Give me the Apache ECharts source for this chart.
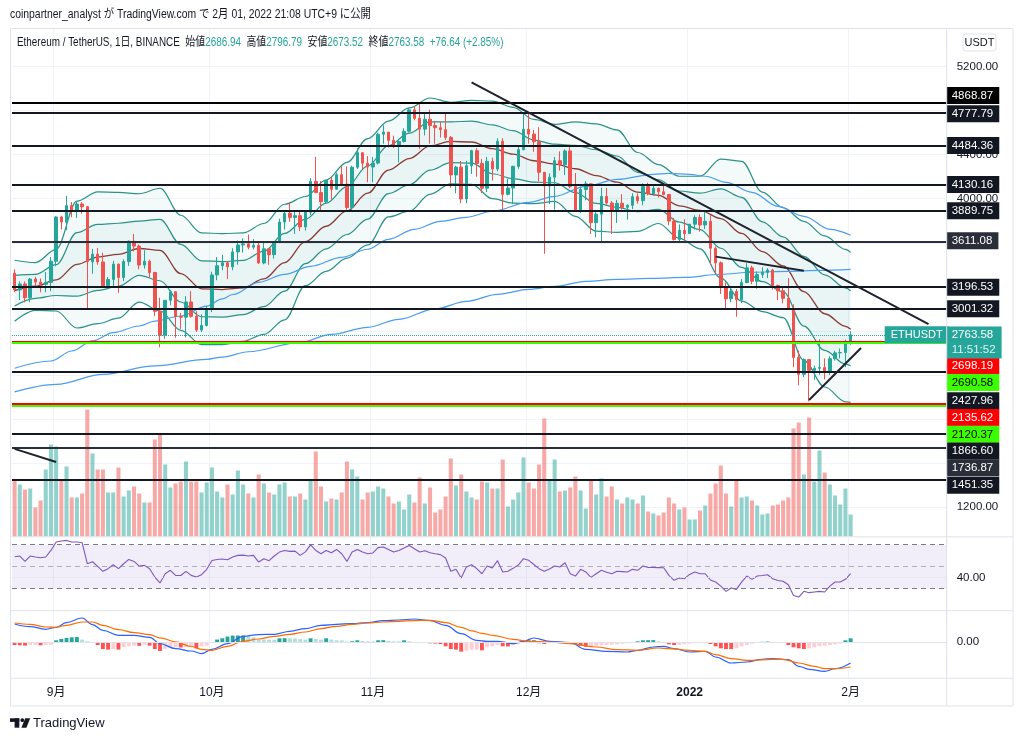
<!DOCTYPE html>
<html>
<head>
<meta charset="utf-8">
<title>ETHUSDT 1D</title>
<script src="https://cdn.jsdelivr.net/npm/echarts/dist/echarts.min.js"></script>
<style>
html,body{margin:0;padding:0;background:#ffffff;}
#chart{width:1024px;height:741px;}
</style>
</head>
<body>
<div id="chart"></div>
<script>
// ================= DATA =================
const slotCount = 180;               // daily slots on the time axis (2021-08-24 ... 2022-02-19)
const monthTicks = {'2021-09-01':'9月','2021-10-01':'10月','2021-11-01':'11月','2021-12-01':'12月','2022-01-01':'2022','2022-02-01':'2月'};

// daily candles [open, high, low, close], 2021-08-24 .. 2022-02-01
const ohlc = [
 [3324,3358,3151,3172],[3172,3249,3080,3226],[3226,3249,3058,3100],[3100,3280,3060,3270],[3270,3290,3200,3243],
 [3243,3276,3150,3223],[3223,3335,3150,3240],[3240,3470,3160,3433],[3433,3840,3387,3834],[3834,3845,3720,3788],
 [3788,4027,3714,3937],[3937,3970,3832,3887],[3887,3975,3826,3952],[3952,3969,3865,3927],[3927,3935,3000,3427],
 [3427,3545,3318,3496],[3496,3552,3400,3426],[3426,3510,3200,3211],[3211,3290,3178,3266],[3266,3436,3205,3406],
 [3406,3410,3145,3285],[3285,3450,3251,3429],[3429,3622,3390,3613],[3613,3680,3520,3570],[3570,3584,3358,3397],
 [3397,3532,3365,3432],[3432,3447,3285,3330],[3330,3336,2933,2977],[2977,3100,2650,2760],[2760,3080,2727,3077],
 [3077,3172,3032,3155],[3155,3160,2737,2930],[2930,2963,2817,2924],[2924,3115,2740,3062],[3062,3160,2919,2932],
 [2932,2978,2790,2807],[2807,2950,2790,2849],[2849,3025,2840,3000],[3000,3336,2970,3308],[3308,3470,3260,3391],
 [3391,3490,3350,3418],[3418,3430,3270,3381],[3381,3550,3350,3517],[3517,3620,3400,3580],[3580,3640,3510,3590],
 [3590,3675,3540,3560],[3560,3633,3540,3577],[3577,3615,3410,3416],[3416,3600,3405,3545],[3545,3550,3400,3492],
 [3492,3615,3456,3606],[3606,3818,3600,3788],[3788,3880,3720,3867],[3867,3968,3790,3830],[3830,3888,3680,3846],
 [3846,3895,3706,3744],[3744,3890,3710,3878],[3878,4187,3850,4157],[4157,4380,4050,4056],[4056,4160,3890,3972],
 [3972,4168,3960,4168],[4168,4198,3990,4086],[4086,4238,4080,4218],[4218,4295,4120,4132],[4132,4294,3900,3920],
 [3920,4300,3880,4286],[4286,4460,4270,4418],[4418,4418,4270,4323],[4323,4387,4150,4288],[4288,4380,4150,4324],
 [4324,4600,4310,4586],[4586,4666,4500,4605],[4605,4607,4465,4530],[4530,4572,4460,4475],[4475,4530,4330,4520],
 [4520,4640,4510,4612],[4612,4824,4600,4807],[4807,4840,4713,4730],[4730,4868,4450,4632],[4632,4778,4575,4722],
 [4722,4810,4500,4665],[4665,4707,4500,4645],[4645,4700,4556,4627],[4627,4773,4535,4557],[4557,4570,4100,4216],
 [4216,4300,4050,4287],[4287,4343,3960,3998],[3998,4345,3960,4300],[4300,4445,4225,4436],[4436,4460,4200,4320],
 [4320,4360,4050,4095],[4095,4380,4060,4340],[4340,4373,4165,4270],[4270,4550,4250,4523],[4523,4550,3900,4040],
 [4040,4180,4030,4097],[4097,4300,3950,4294],[4294,4470,4272,4445],[4445,4778,4440,4631],[4631,4778,4500,4587],
 [4587,4625,4426,4518],[4518,4650,4156,4240],[4240,4240,3500,4116],[4116,4230,3950,4196],[4196,4380,3900,4346],
 [4346,4430,4255,4308],[4308,4450,4215,4434],[4434,4490,4095,4110],[4110,4233,3890,3900],[3900,4110,3870,4084],
 [4084,4160,3986,4135],[4135,4140,3680,3783],[3783,3880,3650,3860],[3860,4100,3600,4021],[4021,4098,3945,3961],
 [3961,3980,3680,3886],[3886,3990,3780,3959],[3959,4041,3900,3922],[3922,3950,3810,3940],[3940,4050,3905,4019],
 [4019,4048,3955,3982],[3982,4140,3940,4110],[4110,4145,4030,4045],[4045,4120,4030,4095],[4095,4100,4010,4063],
 [4063,4125,4033,4038],[4038,4040,3760,3797],[3797,3827,3620,3630],[3630,3767,3600,3713],[3713,3815,3625,3683],
 [3683,3770,3680,3769],[3769,3850,3720,3829],[3829,3857,3700,3762],[3762,3877,3725,3795],[3795,3850,3400,3550],
 [3550,3567,3320,3418],[3418,3431,3135,3193],[3193,3240,3000,3091],[3091,3204,3060,3157],[3157,3180,2928,3083],
 [3083,3270,3052,3239],[3239,3414,3232,3372],[3372,3392,3224,3251],[3251,3340,3183,3311],[3311,3378,3280,3331],
 [3331,3370,3280,3353],[3353,3363,3174,3212],[3212,3220,3080,3164],[3164,3198,3050,3095],[3095,3280,2990,3001],
 [3001,3042,2469,2559],[2559,2620,2305,2405],[2405,2550,2380,2539],[2539,2540,2159,2441],[2441,2485,2355,2460],
 [2460,2723,2400,2466],[2466,2549,2360,2424],[2424,2570,2400,2547],[2547,2620,2530,2600],[2600,2640,2550,2603],
 [2603,2720,2470,2686.94],[2686.94,2796.79,2673.52,2763.58]
];

// daily volume (thousand ETH)
const volume = [
 692,624,564,576,348,432,804,1104,1080,680, 840,468,468,516,1524,996,804,804,528,528,
 828,480,552,600,516,408,408,1164,1236,864, 588,636,660,900,660,660,528,648,828,540,
 468,624,504,792,624,516,468,744,636,528, 504,624,648,480,480,516,444,684,1020,600,
 420,456,444,528,900,804,720,444,528,540, 600,576,480,396,420,324,504,408,708,396,
 588,288,324,480,936,612,744,540,468,444, 660,648,576,576,924,360,444,528,948,648,
 576,864,1416,684,924,540,552,588,720,552, 336,684,504,696,480,600,444,396,468,444,
 396,492,300,276,252,288,468,396,324,348, 204,204,312,372,516,636,852,516,360,684,
 468,480,432,372,264,276,372,384,432,468, 1296,1368,744,1428,660,1032,768,624,492,384,
 576,264
];

// Bollinger bands (20, 2σ and 1σ) read at sample days (days since 2021-08-24)
const bandDay = [0,4,8,12,16,20,24,28,32,36,40,44,48,52,56,60,64,68,72,76,80,84,88,92,96,100,104,108,112,116,120,124,128,132,136,140,144,148,152,156,160,161];
const bbUpper2 = [3441,3420,3540,3979,4063,4058,4045,4095,3850,3690,3683,3690,3775,3950,4020,4170,4330,4545,4705,4825,4915,4876,4894,4886,4830,4720,4675,4698,4680,4625,4420,4310,4204,4204,4360,4340,4060,3918,3795,3662,3540,3513];
const bbUpper1 = [3303,3313,3401,3692,3767,3777,3797,3813,3585,3436,3429,3440,3524,3685,3815,3960,4110,4298,4483,4595,4698,4698,4705,4671,4618,4533,4495,4485,4445,4388,4240,4171,4070,4050,4090,4013,3790,3654,3476,3309,3191,3164];
const bbBasis  = [3165,3205,3262,3404,3470,3495,3548,3530,3320,3182,3175,3190,3272,3420,3610,3750,3890,4050,4260,4365,4480,4520,4515,4455,4405,4345,4315,4272,4210,4150,4060,4031,3935,3895,3820,3685,3520,3390,3156,2955,2841,2815];
const bbLower1 = [3026,3095,3121,3115,3167,3205,3304,3255,3062,2928,2925,2947,3020,3160,3410,3545,3675,3815,4047,4125,4260,4327,4323,4227,4182,4150,4145,4056,3957,3922,3882,3903,3787,3720,3550,3377,3247,3155,2843,2622,2498,2483];
const bbLower2 = [2887,2986,2980,2826,2865,2915,3060,2980,2805,2675,2675,2705,2768,2900,3210,3340,3460,3580,3835,3886,4040,4135,4131,4000,3960,3955,3975,3840,3705,3695,3704,3775,3640,3545,3280,3070,2975,2920,2530,2290,2155,2151];

// two moving averages (blue)
const maFastDay = [0,7,11,15,19,24,27,32,37,40,42,47,52,57,63,68,72,77,82,87,92,99,104,110,116,123,126,130,133,137,142,147,152,157,161];
const maFast    = [2460,2526,2617,2708,2784,2844,2889,2935,3025,3090,3130,3241,3313,3386,3468,3541,3631,3722,3795,3831,3886,3967,4022,4113,4176,4222,4231,4222,4204,4149,4058,3931,3840,3722,3668];
const maSlowDay = [0,8,17,27,37,40,45,55,61,68,74,81,87,93,99,104,110,116,123,129,136,142,149,155,161];
const maSlow    = [2246,2314,2405,2481,2541,2562,2610,2696,2768,2832,2905,3000,3068,3132,3177,3204,3250,3268,3277,3286,3314,3332,3341,3350,3359];

// horizontal levels and drawn trend lines
const levelPrices = [4868.87,4777.79,4484.36,4130.16,3889.75,3611.08,3196.53,3001.32,2698.19,2690.58,2427.96,2135.62,2120.37,1866.60,1736.87,1451.35];
const trendLines = [
  [['2021-11-20',5057],['2022-02-16',2860]],
  [['2022-01-06',3474],['2022-01-23',3345]],
  [['2022-01-24',2172],['2022-02-03',2644]],
  [['2021-08-24',1728],['2021-09-01',1609]]
];
const barCountdown = '11:51:52';

// RSI (14), one value per day
const rsi = [
 59.1,59.7,54.8,59.7,58.8,58.2,58.8,64.8,72.4,73.3, 73.9,72.4,72.4,71.8,52.7,54.5,50.3,45.8,48.2,51.8,
 48.2,52.7,56.6,54.8,50.6,51.2,48.2,40.6,35.2,43.6, 46.7,42.1,42.0,45.8,42.1,40.6,42.7,47.6,55.7,56.6,
 57.0,56.3,58.8,60.3,60.5,59.7,60.3,54.2,57.3,55.5, 59.7,63.3,64.8,63.9,64.2,60.3,63.5,69.9,64.8,61.8,
 64.8,62.7,65.7,61.8,54.8,63.3,65.7,63.3,61.8,62.5, 67.3,67.9,65.7,63.3,64.8,66.9,69.3,66.3,63.3,64.5,
 62.7,61.8,61.0,57.9,45.8,47.6,39.7,49.7,51.8,48.2, 43.6,50.6,48.8,55.5,45.2,45.8,48.5,51.5,57.3,55.8,
 52.0,48.2,45.8,48.0,50.6,49.7,53.6,43.6,41.5,47.6, 45.2,40.3,43.6,46.7,45.0,43.6,45.8,45.5,45.2,47.6,
 46.7,50.6,49.4,49.3,49.2,49.1,42.1,37.6,39.7,39.1, 43.0,45.2,43.6,43.6,38.0,36.1,32.4,27.6,30.6,29.4,
 36.0,41.5,38.5,41.5,42.0,42.7,39.1,37.5,36.7,33.6, 23.9,22.4,27.6,26.4,27.0,27.6,27.0,32.4,36.1,36.1,
 38.5,43.6
];

// MACD (12, 26, 9)
const macdDay = [0,3,6,8,10,13,15,17,20,23,26,28,31,34,36,38,41,44,47,50,53,56,59,62,65,68,71,74,77,80,83,86,89,91,93,96,98,100,103,107,110,114,118,120,123,125,127,130,133,135,138,141,144,146,149,151,153,156,158,161];
const macdLine = [183,157,130,150,197,243,177,120,70,70,50,-13,-63,-87,-113,-70,-13,60,77,80,110,137,170,180,187,197,217,223,233,217,170,87,20,10,10,-13,10,43,10,-3,-70,-90,-97,-80,-47,-40,-63,-97,-90,-147,-207,-197,-170,-163,-173,-240,-270,-290,-263,-207];
const signalDay = [0,3,6,8,10,13,15,17,20,23,26,28,31,34,36,38,41,44,47,50,53,56,59,62,65,68,71,74,77,80,83,86,88,90,92,96,99,103,107,112,116,120,124,126,130,133,135,138,141,146,148,151,154,156,158,161];
const signalLine = [193,180,153,150,170,203,203,170,127,97,77,45,5,-42,-70,-80,-40,10,33,60,80,103,137,160,180,193,203,210,217,220,197,150,115,90,70,30,10,3,-13,-47,-73,-80,-57,-63,-80,-90,-123,-163,-180,-170,-170,-207,-240,-263,-263,-247];
const macdHist = [
 -27,-30,-33,-27,-25,-30,-27,-25,20,33, 43,50,52,27,10,-7,-27,-67,-73,-67,
 -73,-47,-40,-33,-35,-27,-33,-67,-87,-65, -58,-50,-52,-50,-43,-60,-40,-33,3,27,
 40,57,67,67.5,68,60,50,27,27,26, 25,40,41,40,38,33,27,40,33,27,
 40,27,20,19,7,10,20,13,10,9, 20,21,13,10,9,20,10,3,3,1,
 -10,-13,-17,-40,-67,-73,-93,-83,-73,-72, -80,-50,-40,-27,-40,-42,-27,-20,10,20,
 21,-10,-17,-10,-8,-6,-4,-17,-20,-35, -45,-40,-35,-30,-27,-23,-20,-13,-10,-7,
 10,20,21,22,10,-3,-20,-27,-26,-20, -13,-10,-7,-5,-17,-40,-60,-67,-68,-60,
 -40,-27,-13,-7,5,7,3,2,-7,-27, -50,-60,-67,-60,-50,-40,-33,-27,-20,-13,
 20,40
];

// ================= BUILD =================
const dates = [];
(function(){ const t0 = Date.UTC(2021,7,24); for (let i=0;i<slotCount;i++) dates.push(new Date(t0+i*86400000).toISOString().slice(0,10)); })();

const FONT = "'Liberation Sans', 'Noto Sans CJK JP', sans-serif";
const TEXT = '#131722', GRIDLINE = '#f0f3fa', BORDER = '#e0e3eb';
const UP = '#26a69a', DOWN = '#ef5350';

const pairs = (days, vals) => days.map((d,i) => [dates[d], vals[i]]);
const diff = (a,b) => a.map((v,i) => v - b[i]);
const isUp = ohlc.map(r => r[3] >= r[0]);
const candleData = ohlc.map(r => [r[0], r[3], r[2], r[1]]);

const levelKinds = ['k0','k','k','k','k','g','k','k','r','G','k','r','G','k','g','k'];
const levelLabelShift = [-7.5,0.7,0,0,0,-0.7,0,0,23.7,39.5,29,13.4,28.7,17.5,19.9,5.8];
const kindStyle = {
  k0:{line:'#000000', bg:'#000000', fg:'#ffffff'},
  k:{line:'#131722', bg:'#131722', fg:'#ffffff'},
  g:{line:'#2a2e39', bg:'#2a2e39', fg:'#ffffff'},
  r:{line:'#ff0000', bg:'#ff0000', fg:'#ffffff'},
  G:{line:'#3bff00', bg:'#3bff00', fg:'#000000'}
};
const levelItems = levelPrices.map((p,i) => {
  const s = kindStyle[levelKinds[i]];
  return {yAxis:p, lineStyle:{color:s.line, width:2, type:'solid'},
    label:{show:true, position:'end', distance:0, formatter:p.toFixed(2), backgroundColor:s.bg, color:s.fg,
      padding:[2,6,2,5], fontSize:11.5, fontFamily:FONT, lineHeight:13, offset:[0, levelLabelShift[i]]}};
});
const last = ohlc[ohlc.length-1];
const prevClose = ohlc[ohlc.length-2][3];
const lastItems = [
  {yAxis:last[3], lineStyle:{color:'rgba(0,0,0,0)', width:0},
   label:{show:true, position:'end', distance:0, formatter:'ETHUSDT', backgroundColor:UP, color:'#ffffff',
     padding:[2,6,2,6], offset:[-62,0], fontSize:11, fontFamily:FONT, lineHeight:13}},
  {yAxis:last[3], lineStyle:{color:UP, width:1, type:'dotted'},
   label:{show:true, position:'end', distance:0, formatter:'{a|'+last[3].toFixed(2)+'}\n{b|'+barCountdown+'}',
     backgroundColor:UP, padding:[1,6,1,5], offset:[0,7.7],
     rich:{a:{color:'#ffffff', fontSize:11.5, fontFamily:FONT, lineHeight:15}, b:{color:'rgba(255,255,255,0.85)', fontSize:11.5, fontFamily:FONT, lineHeight:15}}}}
];
const trendItems = trendLines.map(([a,b]) => [
  {coord:[a[0],a[1]], lineStyle:{color:'#1e222d', width:2, type:'solid'}, label:{show:false}},
  {coord:[b[0],b[1]]}
]);

const gridL = 12, gridR = 1024 - 946.7;
const grids = [
  {left:gridL, right:gridR, top:66.6, height:440.4},
  {left:gridL, right:gridR, top:28, height:508.5},
  {left:gridL, right:gridR, top:537, height:73.7},
  {left:gridL, right:gridR, top:610.7, height:67.6}
].map(g => Object.assign(g, {containLabel:false, outerBoundsMode:'none', show:false}));

const isTick = (i, v) => monthTicks[v] !== undefined;
const xAxes = [0,1,2,3].map(i => ({
  type:'category', gridIndex:i, data:dates, boundaryGap:true,
  axisLine:{show:false}, axisTick:{show:false},
  axisLabel: i === 3 ? {show:true, interval:isTick, margin:8, color:TEXT, fontSize:12, fontFamily:FONT,
      formatter: v => v === '2022-01-01' ? '{b|2022}' : (monthTicks[v] || ''),
      rich:{b:{fontWeight:'bold', color:TEXT, fontSize:12, fontFamily:FONT}}} : {show:false},
  splitLine:{show: i !== 0, interval:isTick, lineStyle:{color:GRIDLINE, width:1}}
}));

const priceLabelSet = [5200, 4400, 4000, 1200];
const axisLbl = {color:TEXT, fontSize:11.5, fontFamily:FONT, margin:10};
const yAxes = [
  {type:'value', gridIndex:0, position:'right', min:1200, max:5200, interval:400,
   axisLine:{show:false}, axisTick:{show:false},
   axisLabel:Object.assign({formatter: v => priceLabelSet.includes(v) ? v.toFixed(2) : ''}, axisLbl),
   splitLine:{show:true, lineStyle:{color:GRIDLINE, width:1}}},
  {type:'value', gridIndex:1, min:0, max:6102, show:false, splitLine:{show:false}},
  {type:'value', gridIndex:2, position:'right', min:10, max:77, interval:10,
   axisLine:{show:false}, axisTick:{show:false}, splitLine:{show:false},
   axisLabel:Object.assign({formatter: v => v === 40 ? '40.00' : ''}, axisLbl)},
  {type:'value', gridIndex:3, position:'right', min:-360, max:316, interval:360,
   axisLine:{show:false}, axisTick:{show:false}, splitLine:{show:false},
   axisLabel:Object.assign({formatter: v => v === 0 ? '0.00' : ''}, axisLbl)}
];

const bandLine = (name, days, vals, color, width) => ({
  name, type:'line', xAxisIndex:0, yAxisIndex:0, data:pairs(days, vals), symbol:'none',
  smooth:0.35, smoothMonotone:'x', silent:true, lineStyle:{color, width}, z:2
});
const fillBase = (stack, vals) => ({type:'line', xAxisIndex:0, yAxisIndex:0, stack, data:pairs(bandDay, vals),
  symbol:'none', smooth:0.35, smoothMonotone:'x', silent:true, lineStyle:{opacity:0}, z:1});
const fillTop = (stack, vals, color) => ({type:'line', xAxisIndex:0, yAxisIndex:0, stack, data:pairs(bandDay, vals),
  symbol:'none', smooth:0.35, smoothMonotone:'x', silent:true, lineStyle:{opacity:0}, areaStyle:{color, opacity:1}, z:1});

let prevH = 0;
const histData = macdHist.map(v => {
  let c;
  if (v >= 0) c = v > prevH ? '#26a69a' : '#b2dfdb';
  else c = v < prevH ? '#ff5252' : '#ffcdd2';
  prevH = v;
  return {value:v, itemStyle:{color:c}};
});

const series = [
  {name:'Volume', type:'bar', xAxisIndex:1, yAxisIndex:1, barWidth:'78%', silent:true, z:0,
   data: volume.map((v,i) => ({value:v, itemStyle:{color: isUp[i] ? 'rgba(38,166,154,0.5)' : 'rgba(239,83,80,0.5)'}}))},
  fillBase('bbOuter', bbLower2),
  fillTop('bbOuter', diff(bbUpper2, bbLower2), 'rgba(38,166,154,0.055)'),
  fillBase('bbInner', bbLower1),
  fillTop('bbInner', diff(bbUpper1, bbLower1), 'rgba(38,166,154,0.05)'),
  bandLine('BB upper 2', bandDay, bbUpper2, '#2a9287', 1.2),
  bandLine('BB upper 1', bandDay, bbUpper1, '#2a9287', 1.2),
  bandLine('BB lower 1', bandDay, bbLower1, '#2a9287', 1.2),
  bandLine('BB lower 2', bandDay, bbLower2, '#2a9287', 1.2),
  bandLine('BB basis', bandDay, bbBasis, '#8c3a36', 1.3),
  bandLine('MA fast', maFastDay, maFast, '#4a9df0', 1.2),
  bandLine('MA slow', maSlowDay, maSlow, '#4a9df0', 1.2),
  {name:'ETHUSDT', type:'candlestick', xAxisIndex:0, yAxisIndex:0, data:candleData, barWidth:3, z:3, silent:true,
   itemStyle:{color:UP, color0:DOWN, borderColor:UP, borderColor0:DOWN, borderWidth:1},
   markLine:{symbol:['none','none'], silent:true, animation:false,
     data:[...levelItems, ...lastItems, ...trendItems]}},
  {name:'RSI', type:'line', xAxisIndex:2, yAxisIndex:2, data:rsi, symbol:'none', silent:true,
   lineStyle:{color:'#7e57c2', width:1.1}, z:3,
   markArea:{silent:true, itemStyle:{color:'rgba(126,87,194,0.1)'}, data:[[{yAxis:70},{yAxis:30}]]},
   markLine:{symbol:['none','none'], silent:true, label:{show:false}, animation:false, data:[
     {yAxis:70, lineStyle:{color:'#787b86', width:1, type:[5,4]}},
     {yAxis:50, lineStyle:{color:'rgba(120,123,134,0.55)', width:1, type:[5,4]}},
     {yAxis:30, lineStyle:{color:'#787b86', width:1, type:[5,4]}},
     {yAxis:40, lineStyle:{color:'#e0e3eb', width:1, type:'dotted'}}
   ]}},
  {name:'Histogram', type:'bar', xAxisIndex:3, yAxisIndex:3, data:histData, barWidth:'75%', silent:true, z:2,
   markLine:{symbol:['none','none'], silent:true, label:{show:false}, animation:false,
     data:[{yAxis:0, lineStyle:{color:'#e0e3eb', width:1, type:'solid'}}]}},
  {name:'MACD', type:'line', xAxisIndex:3, yAxisIndex:3, data:pairs(macdDay, macdLine), symbol:'none', silent:true,
   smooth:0.4, smoothMonotone:'x', lineStyle:{color:'#2962ff', width:1.2}, z:3},
  {name:'Signal', type:'line', xAxisIndex:3, yAxisIndex:3, data:pairs(signalDay, signalLine), symbol:'none', silent:true,
   smooth:0.4, smoothMonotone:'x', lineStyle:{color:'#ff6d00', width:1.2}, z:3}
];

const chg = last[3] - prevClose;
const pct = chg / prevClose * 100;
const headerRich = {
  n:{fill:TEXT, fontSize:12, fontFamily:FONT},
  v:{fill:UP, fontSize:12, fontFamily:FONT}
};
const headerText = '{n|Ethereum / TetherUS, 1日, BINANCE}  {n|始値}{v|'+last[0].toFixed(2)+'}  {n|高値}{v|'+last[1].toFixed(2)+
  '}  {n|安値}{v|'+last[2].toFixed(2)+'}  {n|終値}{v|'+last[3].toFixed(2)+'}  {v|'+(chg>=0?'+':'')+chg.toFixed(2)+' ('+(chg>=0?'+':'')+pct.toFixed(2)+'%)}';

const graphic = [
  {type:'text', x:10, y:14.5, scaleX:0.832, silent:true, style:{text:'coinpartner_analyst が TradingView.com で 2月 01, 2022 21:08 UTC+9 に公開', fill:TEXT, fontSize:12.5, fontFamily:FONT, verticalAlign:'middle'}},
  {type:'rect', silent:true, z:100, shape:{x:10.5, y:28.5, width:1002.5, height:677.5}, style:{fill:'none', stroke:BORDER, lineWidth:1}},
  {type:'line', silent:true, z:100, shape:{x1:946.7, y1:28.5, x2:946.7, y2:706}, style:{stroke:BORDER, lineWidth:1}},
  {type:'line', silent:true, z:100, shape:{x1:10.5, y1:536.8, x2:1013, y2:536.8}, style:{stroke:BORDER, lineWidth:1}},
  {type:'line', silent:true, z:100, shape:{x1:10.5, y1:610.7, x2:1013, y2:610.7}, style:{stroke:BORDER, lineWidth:1}},
  {type:'line', silent:true, z:100, shape:{x1:10.5, y1:678.3, x2:1013, y2:678.3}, style:{stroke:BORDER, lineWidth:1}},
  {type:'text', x:17, y:42.5, scaleX:0.825, silent:true, z:100, style:{text:headerText, rich:headerRich, verticalAlign:'middle'}},
  {type:'rect', silent:true, z:100, shape:{x:963, y:34, width:33, height:17, r:3}, style:{fill:'#ffffff', stroke:BORDER, lineWidth:1}},
  {type:'text', silent:true, z:101, x:979.5, y:42.8, style:{text:'USDT', fill:TEXT, fontSize:11, fontFamily:FONT, align:'center', verticalAlign:'middle'}},
  // TradingView logo
  {type:'rect', silent:true, shape:{x:10, y:718.3, width:9.3, height:3.6}, style:{fill:TEXT}},
  {type:'rect', silent:true, shape:{x:14.6, y:718.3, width:4.7, height:9.4}, style:{fill:TEXT}},
  {type:'circle', silent:true, shape:{cx:22.3, cy:720.2, r:1.9}, style:{fill:TEXT}},
  {type:'polygon', silent:true, shape:{points:[[25.2,718.3],[30.2,718.3],[26.4,727.7],[21.4,727.7]]}, style:{fill:TEXT}},
  {type:'text', silent:true, x:33, y:723, style:{text:'TradingView', fill:TEXT, fontSize:13, fontFamily:FONT, verticalAlign:'middle'}}
];

const chart = echarts.init(document.getElementById('chart'), null, {renderer:'canvas', width:1024, height:741});
chart.setOption({
  animation:false,
  backgroundColor:'#ffffff',
  grid:grids, xAxis:xAxes, yAxis:yAxes, series, graphic
});
</script>
</body>
</html>
